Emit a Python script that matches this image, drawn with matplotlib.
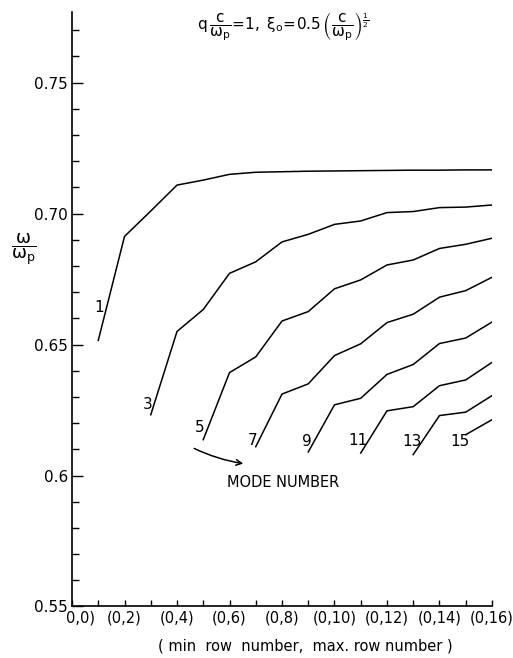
import numpy as np
import matplotlib.pyplot as plt
import matplotlib.transforms as mtransforms

plt.rcParams['mathtext.fontset'] = 'dejavusans'

# mode numbers and omega/omega_p values, one list per curve (curve n starts at x = n)
modes = [1, 3, 5, 7, 9, 11, 13, 15]
mode1 = [0.6516, 0.6913, 0.7010, 0.7109, 0.7128, 0.7150, 0.7158, 0.7160,
         0.7162, 0.7163, 0.7164, 0.7165, 0.7166, 0.7166, 0.7167, 0.7167]
mode3 = [0.6232, 0.6550, 0.6634, 0.6772, 0.6816, 0.6892, 0.6921, 0.6959,
         0.6972, 0.7004, 0.7008, 0.7023, 0.7025, 0.7033]
mode5 = [0.6137, 0.6393, 0.6453, 0.6590, 0.6626, 0.6713, 0.6747, 0.6804,
         0.6823, 0.6867, 0.6883, 0.6906]
mode7 = [0.6110, 0.6311, 0.6350, 0.6458, 0.6503, 0.6584, 0.6616, 0.6681,
         0.6706, 0.6757]
mode9 = [0.6090, 0.6270, 0.6295, 0.6386, 0.6424, 0.6504, 0.6525, 0.6586]
mode11 = [0.6086, 0.6247, 0.6263, 0.6343, 0.6365, 0.6432]
mode13 = [0.6080, 0.6229, 0.6242, 0.6305]
mode15 = [0.6156, 0.6213]
curves = [mode1, mode3, mode5, mode7, mode9, mode11, mode13, mode15]

# label positions (x, y) next to the start of each curve
label_x = [1.05, 2.87, 4.88, 6.88, 8.93, 10.9, 12.97, 14.78]
label_y = [0.664, 0.627, 0.6185, 0.6134, 0.613, 0.6133, 0.613, 0.613]

xtick_pos = [0, 2, 4, 6, 8, 10, 12, 14, 16]
xtick_labels = ['0,0)', '(0,2)', '(0,4)', '(0,6)', '(0,8)', '(0,10)', '(0,12)', '(0,14)', '(0,16)']
ytick_pos = [0.55, 0.60, 0.65, 0.70, 0.75]
ytick_labels = ['0.55', '0.6', '0.65', '0.70', '0.75']

fig = plt.figure(figsize=(5.13, 6.58), dpi=100)
ax = fig.add_axes([0.1404, 0.0783, 0.8186, 0.9035])

for n, vals in zip(modes, curves):
    xs = np.arange(n, n + len(vals))
    ax.plot(xs, vals, color='black', lw=1.1)

for n, lx, ly in zip(modes, label_x, label_y):
    ax.text(lx, ly, str(n), fontsize=11, ha='center', va='center')

ax.annotate('', xy=(6.63, 0.6044), xytext=(4.56, 0.6108),
            arrowprops=dict(arrowstyle='->', color='black', lw=1.1,
                            connectionstyle='arc3,rad=0.08'))
ax.text(5.9, 0.5973, 'MODE NUMBER', fontsize=10.5, ha='left', va='center')

ax.set_xlim(0, 16)
ax.set_ylim(0.55, 0.777)

ax.spines['top'].set_visible(False)
ax.spines['right'].set_visible(False)
ax.spines['left'].set_linewidth(1.2)
ax.spines['bottom'].set_linewidth(1.2)

ax.set_xticks(xtick_pos)
ax.set_xticklabels(xtick_labels, fontsize=10.5)
ax.set_xticks(np.arange(0, 17, 1), minor=True)
ax.set_yticks(ytick_pos)
ax.set_yticklabels(ytick_labels, fontsize=11)
ax.set_yticks(np.arange(0.55, 0.775, 0.01), minor=True)
ax.tick_params(axis='x', which='both', direction='in', length=4, width=1, pad=3)
ax.tick_params(axis='y', which='major', direction='in', length=8, width=1, pad=3)
ax.tick_params(axis='y', which='minor', direction='in', length=5, width=1)

# shift the first x label a little to the right like the original
lab0 = ax.get_xticklabels()[0]
lab0.set_transform(lab0.get_transform() + mtransforms.ScaledTranslation(8 / 100, 0, fig.dpi_scale_trans))

fig.text(24 / 513, 1 - 249 / 658, r'$\mathrm{\dfrac{\omega}{\omega_p}}$', fontsize=13,
         ha='center', va='center')
fig.text(283 / 513, 1 - 27 / 658,
         r'$\mathrm{q\,\dfrac{c}{\omega_p}\!=\!1,\;\xi_o\!=\!0.5\,\left(\dfrac{c}{\omega_p}\right)^{\frac{1}{2}}}$',
         fontsize=11, ha='center', va='center')
fig.text(305 / 513, 1 - 646 / 658, '( min  row  number,  max. row number )',
         fontsize=10.5, ha='center', va='center')

plt.savefig('out.png', dpi=100)
plt.close()
